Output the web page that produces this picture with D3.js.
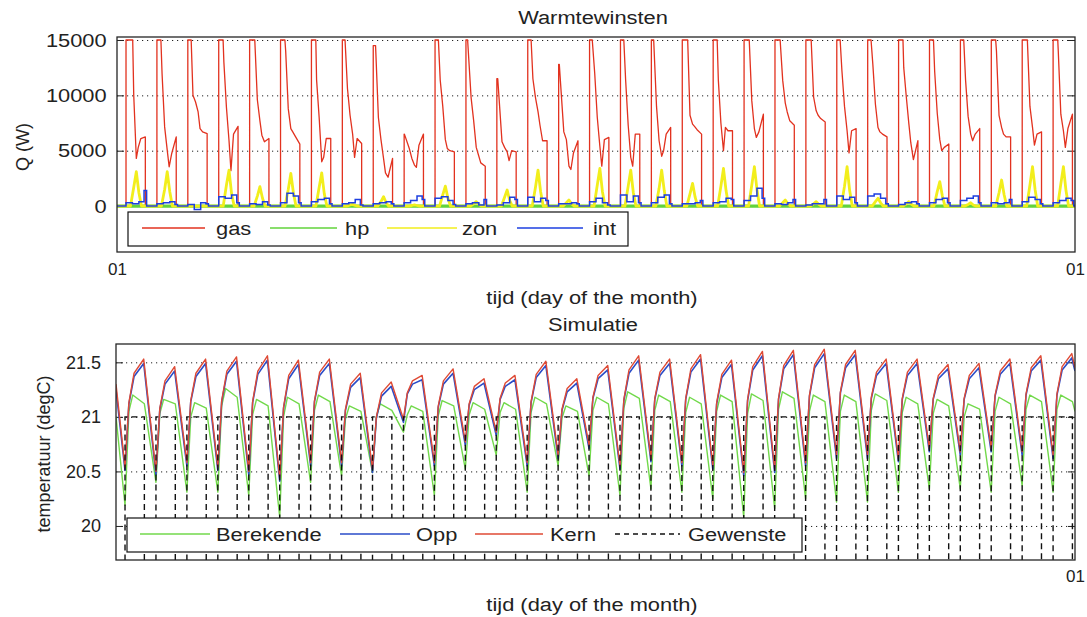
<!DOCTYPE html>
<html lang="nl">
<head>
<meta charset="utf-8">
<title>Warmtewinsten / Simulatie</title>
<script src="https://cdn.jsdelivr.net/npm/d3@7"></script>
<style>
  body { margin: 0; background: #fff; }
  text { font-family: "Liberation Sans", Arial, sans-serif; fill: #222; }
  .grid line { stroke: #222; stroke-dasharray: 1.2 3.8; }
  .grid path { display: none; }
  .ax path { display: none; }
  .ax line { stroke: #222; }
</style>
</head>
<body>
<svg id="fig" width="1087" height="617"></svg>
<script>
// ---------- data (one value per day of the month) ----------
const nDays = 31;

// gas (W): plateau end hour, peak, and values at 11, 13, 15, 16:30, 18:30, 22h
const gasPlatEnd = [12.2, 10.1, 9.6, 10.4, 10.9, 10.4, 10.4, 9.1, 8.8, 7.2, 9.6, 8.3, 7.7, 9.6, 7.5, 9.1, 9.6, 8.8, 11.2, 10.1, 11.0, 10.9, 11.1, 9.6, 9.6, 10.4, 10.1, 9.6, 10.4, 10.9, 10.6];
const gasPeak = [15000, 15000, 15000, 15000, 15000, 15000, 15000, 15000, 14500, 6500, 15000, 15000, 11500, 15000, 12800, 15000, 15000, 15000, 15000, 15000, 15000, 15000, 15000, 15000, 15000, 15000, 15000, 15000, 15000, 15000, 15000];
const gas11 = [15000, 11950, 10000, 13000, 15000, 14000, 11400, 10600, 8000, 5200, 11400, 9800, 5800, 11500, 6700, 12000, 11400, 9000, 15000, 11400, 15000, 15000, 15000, 12200, 12800, 12500, 12200, 11400, 14000, 15000, 14000];
const gas13 = [10000, 7150, 9400, 8900, 9600, 8800, 8000, 8200, 6000, 4300, 9000, 7700, 5300, 9800, 6000, 8000, 7300, 5900, 8200, 7500, 9500, 11350, 9850, 9000, 9200, 9850, 8400, 8100, 8200, 9000, 8300];
const gas15 = [4300, 5050, 8500, 5900, 7700, 7000, 4000, 6500, 4300, 3700, 6000, 5300, 4900, 8500, 3600, 5400, 4400, 4500, 7400, 5000, 7000, 9300, 8600, 6800, 7100, 7400, 6000, 6500, 7100, 7100, 6800];
const gas165 = [5300, 3550, 7000, 3200, 6400, 6700, 4400, 4400, 3000, 3500, 5200, 4700, 4100, 7300, 3300, 3600, 3600, 5000, 7200, 7100, 6200, 8500, 8200, 4800, 6700, 5700, 5000, 5900, 6500, 5500, 5300];
const gas185 = [6100, 4750, 6700, 6500, 5800, 6300, 6100, 6100, 2600, 5500, 5000, 3900, 5000, 5900, 4800, 6000, 6500, 6500, 6900, 6800, 6700, 7700, 7900, 6800, 6500, 4200, 5300, 6500, 6250, 6500, 7000];
const gas22 = [6250, 6250, 6550, 7200, 6100, 5600, 6100, 5650, 4300, 6500, 4900, 3600, 4900, 5900, 5900, 6200, 6500, 7100, 6500, 6800, 8300, 7300, 7600, 7000, 6250, 5900, 5600, 7000, 6250, 6700, 8300];

// heat pump (W)
const hpDay = [0, 0, 0, 0, 0, 0, 0, 0, 0, 0, 0, 0, 0, 0, 0, 0, 0, 0, 0, 0, 0, 0, 0, 0, 0, 0, 0, 0, 0, 0, 0];

// solar gains (W): values at 13h, 15h (peak) and 17h
const zon13 = [1700, 1500, 0, 1900, 900, 1500, 1700, 100, 400, 50, 1000, 200, 800, 1700, 300, 1900, 1800, 1600, 1100, 1800, 1900, 300, 200, 1800, 400, 200, 1300, 150, 1200, 1900, 2000];
const zonPeak = [3100, 3100, 0, 3250, 1750, 2950, 3000, 150, 850, 100, 1800, 400, 1450, 3250, 550, 3400, 3250, 3250, 2050, 3400, 3550, 550, 400, 3550, 700, 400, 2200, 300, 2350, 3550, 3550];
const zon17 = [1200, 1300, 0, 1100, 700, 1200, 1100, 50, 300, 50, 700, 150, 500, 1300, 200, 1300, 1200, 1400, 800, 1400, 1500, 200, 150, 1400, 300, 150, 900, 100, 1000, 1500, 1400];

// internal gains (W): blocks starting 07h, 12h, 17h, 21h
const int07 = [300, 200, 150, 850, 200, 300, 400, 200, 200, 300, 700, 200, 100, 800, 200, 400, 1000, 300, 200, 300, 500, 200, 100, 900, 900, 150, 300, 500, 300, 400, 300];
const int12 = [200, 300, -300, 700, 150, 1150, 600, 300, 300, 500, 850, 300, 300, 400, 200, 700, 400, 800, 200, 400, 900, 150, 200, 600, 1100, 300, 600, 700, 200, 800, 500];
const int17 = [400, 400, 300, 1000, 400, 900, 700, 600, 400, 900, 500, 100, 800, 700, 300, 300, 900, 1000, 300, 700, 1600, 300, 200, 800, 700, 400, 700, 900, 300, 600, 700];
const int21 = [1400, 150, 200, 300, 100, 300, 200, 100, 200, 600, 150, 600, 600, 500, 200, 100, 300, 200, 500, 600, 700, 600, 600, 300, 200, 200, 300, 300, 600, 200, 500];

// temperatures (degC): 07h minimum, 10h, 14h, evening peak
const kernMin = [20.54, 20.50, 20.58, 20.54, 20.50, 20.44, 20.58, 20.58, 20.52, 20.98, 20.58, 20.77, 20.86, 20.58, 20.65, 20.74, 20.55, 20.62, 20.58, 20.55, 20.49, 20.52, 20.58, 20.65, 20.65, 20.62, 20.71, 20.68, 20.71, 20.68, 20.65];
const kern10 = [21.13, 21.08, 21.15, 21.15, 21.14, 21.09, 21.15, 21.07, 21.00, 21.22, 21.10, 21.12, 21.17, 21.14, 21.07, 21.18, 21.16, 21.17, 21.17, 21.13, 21.16, 21.17, 21.20, 21.23, 21.18, 21.17, 21.17, 21.17, 21.20, 21.21, 21.21];
const kern14 = [21.40, 21.33, 21.40, 21.42, 21.42, 21.38, 21.41, 21.30, 21.22, 21.33, 21.33, 21.28, 21.31, 21.39, 21.26, 21.38, 21.43, 21.41, 21.44, 21.39, 21.46, 21.47, 21.48, 21.48, 21.41, 21.41, 21.38, 21.38, 21.42, 21.45, 21.46];
const kernPeak = [21.53, 21.46, 21.53, 21.55, 21.56, 21.52, 21.53, 21.40, 21.32, 21.38, 21.44, 21.35, 21.38, 21.51, 21.35, 21.47, 21.56, 21.53, 21.57, 21.52, 21.60, 21.61, 21.62, 21.61, 21.53, 21.53, 21.48, 21.49, 21.53, 21.56, 21.58];

const oppMin = [20.51, 20.47, 20.55, 20.51, 20.47, 20.41, 20.55, 20.55, 20.49, 20.95, 20.55, 20.74, 20.83, 20.55, 20.62, 20.71, 20.52, 20.59, 20.55, 20.52, 20.46, 20.49, 20.55, 20.62, 20.62, 20.59, 20.68, 20.65, 20.68, 20.65, 20.62];
const opp10 = [21.12, 21.07, 21.14, 21.14, 21.13, 21.08, 21.14, 21.06, 20.99, 21.21, 21.09, 21.11, 21.16, 21.13, 21.06, 21.17, 21.15, 21.16, 21.16, 21.12, 21.15, 21.16, 21.19, 21.22, 21.17, 21.16, 21.16, 21.16, 21.19, 21.20, 21.20];
const opp14 = [21.37, 21.30, 21.37, 21.39, 21.39, 21.35, 21.38, 21.27, 21.19, 21.30, 21.30, 21.25, 21.28, 21.36, 21.23, 21.35, 21.40, 21.38, 21.41, 21.36, 21.43, 21.44, 21.45, 21.45, 21.38, 21.38, 21.35, 21.35, 21.39, 21.42, 21.43];
const oppPeak = [21.49, 21.42, 21.49, 21.51, 21.52, 21.48, 21.49, 21.36, 21.28, 21.34, 21.40, 21.31, 21.34, 21.47, 21.31, 21.43, 21.52, 21.49, 21.53, 21.48, 21.56, 21.57, 21.58, 21.57, 21.49, 21.49, 21.44, 21.45, 21.49, 21.52, 21.54];

// berekende: 07h minimum, 10h, 13h plateau, 22h
const berMin = [20.19, 20.40, 20.31, 20.31, 20.28, 20.08, 20.40, 20.46, 20.49, 20.86, 20.28, 20.52, 20.65, 20.31, 20.55, 20.46, 20.28, 20.34, 20.31, 20.25, 20.08, 20.16, 20.25, 20.22, 20.22, 20.31, 20.34, 20.34, 20.31, 20.37, 20.31];
const ber10 = [21.05, 21.03, 21.00, 21.10, 21.02, 21.00, 21.06, 20.98, 21.00, 21.02, 21.01, 21.02, 21.04, 21.04, 20.99, 21.06, 21.08, 21.06, 21.04, 21.05, 21.03, 21.07, 21.05, 21.05, 21.06, 21.04, 21.03, 21.00, 21.05, 21.07, 21.07];
const berTop = [21.20, 21.16, 21.13, 21.26, 21.16, 21.18, 21.20, 21.10, 21.12, 21.10, 21.15, 21.13, 21.13, 21.18, 21.10, 21.18, 21.23, 21.20, 21.18, 21.20, 21.21, 21.23, 21.20, 21.20, 21.21, 21.18, 21.16, 21.12, 21.18, 21.20, 21.20];
const berEve = [21.12, 21.12, 21.08, 21.18, 21.10, 21.12, 21.14, 21.05, 21.06, 21.05, 21.10, 21.07, 21.07, 21.12, 21.05, 21.12, 21.17, 21.14, 21.12, 21.14, 21.15, 21.17, 21.14, 21.14, 21.15, 21.12, 21.10, 21.07, 21.12, 21.14, 21.14];

// values at the start (00h day 1) and end (24h day 31) of the month
const tempStart = { kern: 21.3, opp: 21.25, ber: 21.0 };
const tempEnd = { kern: 21.45, opp: 21.42, ber: 21.05 };

// setpoint (Gewenste): day value from 07h to 22h, night value
const setHours = [7, 22];
const setValues = [21, 15];

const qTicks = [0, 5000, 10000, 15000];
const tTicks = [20, 20.5, 21, 21.5];

// ---------- build series ----------
const tEnd = nDays * 24;

var gasPts = [[0, 0]];
var zonPts = [[0, 0]];
var intPts = [[0, 0]];
var hpPts = [];
var kernPts = [[0, tempStart.kern]];
var oppPts = [[0, tempStart.opp]];
var berPts = [[0, tempStart.ber]];
var setPts = [[0, setValues[1]]];

for (var d = 0; d < nDays; d++) {
  var t = d * 24;
  var g = [[7, 0], [7, gasPeak[d]], [gasPlatEnd[d], gasPeak[d]]];
  if (gasPlatEnd[d] < 11) g.push([11, gas11[d]]);
  g.push([13, gas13[d]], [15, gas15[d]], [16.5, gas165[d]], [18.5, gas185[d]], [22, gas22[d]], [22, 0]);
  g.forEach(function(p){ gasPts.push([t + p[0], p[1]]) });

  zonPts.push([t + 10.5, 0], [t + 13, zon13[d]], [t + 15, zonPeak[d]], [t + 17, zon17[d]], [t + 19, 0]);
  intPts.push([t + 7, int07[d]], [t + 12, int12[d]], [t + 17, int17[d]], [t + 21, int21[d]], [t + 23, 0]);
  hpPts.push([t, hpDay[d]]);

  kernPts.push([t + 7, kernMin[d]], [t + 10, kern10[d]], [t + 14, kern14[d]], [t + 21.5, kernPeak[d]]);
  oppPts.push([t + 7, oppMin[d]], [t + 10, opp10[d]], [t + 14, opp14[d]], [t + 21.5, oppPeak[d]]);
  berPts.push([t + 7, berMin[d]], [t + 10, ber10[d]], [t + 13, berTop[d]], [t + 22, berEve[d]]);
  setPts.push([t + setHours[0], setValues[1]], [t + setHours[0], setValues[0]], [t + setHours[1], setValues[0]], [t + setHours[1], setValues[1]]);
}
gasPts.push([tEnd, 0]);
zonPts.push([tEnd, 0]);
intPts.push([tEnd, 0]);
hpPts.push([tEnd, hpDay[nDays - 1]]);
kernPts.push([tEnd, tempEnd.kern]);
oppPts.push([tEnd, tempEnd.opp]);
berPts.push([tEnd, tempEnd.ber]);
setPts.push([tEnd, setValues[1]]);

// ---------- drawing ----------
var svg = d3.select("#fig");
svg.append("rect").attr("width", 1087).attr("height", 617).attr("fill", "#fff");

var colors = {
  gas: "#e2321f", hp: "#62d33b", zon: "#f2ee1c", int: "#1d3fe0",
  ber: "#72d94b", opp: "#2a4cc8", kern: "#df4a35", set: "#111"
};

function wideText(sel, x, y, str, anchor, size) {
  return sel.append("text")
    .attr("transform", "translate(" + x + "," + y + ") scale(1.15,1)")
    .attr("text-anchor", anchor || "middle")
    .style("font-size", (size || 19) + "px")
    .text(str);
}

function panel(box, yScale, ticks, id) {
  var g = svg.append("g");
  var w = box.right - box.left;
  // dotted grid
  g.append("g").attr("class", "grid")
    .attr("transform", "translate(" + box.left + ",0)")
    .call(d3.axisRight(yScale).tickValues(ticks).tickSize(w).tickFormat(""));
  // inward ticks, both sides
  g.append("g").attr("class", "ax")
    .attr("transform", "translate(" + box.left + ",0)")
    .call(d3.axisRight(yScale).tickValues(ticks).tickSize(7).tickFormat(""));
  g.append("g").attr("class", "ax")
    .attr("transform", "translate(" + box.right + ",0)")
    .call(d3.axisLeft(yScale).tickValues(ticks).tickSize(7).tickFormat(""));
  svg.append("clipPath").attr("id", id)
    .append("rect").attr("x", box.left).attr("y", box.top)
    .attr("width", w).attr("height", box.bottom - box.top);
  var plot = svg.append("g").attr("clip-path", "url(#" + id + ")");
  return plot;
}

function frame(box) {
  svg.append("rect")
    .attr("x", box.left).attr("y", box.top)
    .attr("width", box.right - box.left).attr("height", box.bottom - box.top)
    .attr("fill", "none").attr("stroke", "#262626").attr("stroke-width", 1.3);
}

// ===== top panel: Warmtewinsten =====
var boxT = { left: 117, right: 1075, top: 37, bottom: 252 };
var xT = d3.scaleLinear().domain([0, tEnd]).range([boxT.left, boxT.right]);
var yT = d3.scaleLinear().domain([-4150, 15270]).range([boxT.bottom, boxT.top]);

var plotT = panel(boxT, yT, qTicks, "clipTop");
var lineT = d3.line().x(function(p){ return xT(p[0]) }).y(function(p){ return yT(p[1]) });
var stepT = d3.line().curve(d3.curveStepAfter).x(function(p){ return xT(p[0]) }).y(function(p){ return yT(p[1]) });

plotT.append("path").datum(gasPts).attr("d", lineT).attr("fill", "none")
  .attr("stroke", colors.gas).attr("stroke-width", 1.3).attr("stroke-linejoin", "round");
plotT.append("path").datum(hpPts).attr("d", stepT).attr("fill", "none")
  .attr("stroke", colors.hp).attr("stroke-width", 3.2);
plotT.append("path").datum(zonPts).attr("d", lineT).attr("fill", "none")
  .attr("stroke", colors.zon).attr("stroke-width", 2.8).attr("stroke-linejoin", "round");
plotT.append("path").datum(intPts).attr("d", stepT).attr("fill", "none")
  .attr("stroke", colors.int).attr("stroke-width", 1.5);

frame(boxT);

// y tick labels
var yAxT = svg.append("g").attr("class", "ax").attr("transform", "translate(" + boxT.left + ",0)")
  .call(d3.axisLeft(yT).tickValues(qTicks).tickSize(0).tickPadding(9).tickFormat(d3.format("d")));
yAxT.selectAll("text").style("font-size", "19px").attr("transform", "scale(1.15,1)");

// x tick labels
var xAxT = svg.append("g").attr("class", "ax").attr("transform", "translate(0," + boxT.bottom + ")")
  .call(d3.axisBottom(xT).tickValues([0, tEnd]).tickSize(0).tickPadding(11).tickFormat(function(){ return "01" }));
xAxT.selectAll("text").style("font-size", "17px");

wideText(svg, 593, 24, "Warmtewinsten");
wideText(svg, 592, 304, "tijd (day of the month)");
svg.append("text").attr("transform", "translate(29,147) rotate(-90)")
  .attr("text-anchor", "middle").style("font-size", "18px").text("Q (W)");

// legend
var legT = svg.append("g");
legT.append("rect").attr("x", 128).attr("y", 212).attr("width", 500).attr("height", 34)
  .attr("fill", "#fff").attr("stroke", "#111").attr("stroke-width", 1.2);
var legTItems = [
  { name: "gas", c: colors.gas, x1: 142, x2: 205, tx: 216 },
  { name: "hp", c: colors.hp, x1: 270, x2: 337, tx: 345 },
  { name: "zon", c: colors.zon, x1: 387, x2: 457, tx: 462 },
  { name: "int", c: colors.int, x1: 517, x2: 583, tx: 593 }
];
legTItems.forEach(function(it){
  legT.append("line").attr("x1", it.x1).attr("x2", it.x2).attr("y1", 228).attr("y2", 228)
    .attr("stroke", it.c).attr("stroke-width", 1.6);
  wideText(legT, it.tx, 235, it.name, "start");
});

// ===== bottom panel: Simulatie =====
var boxB = { left: 116, right: 1075, top: 344, bottom: 560 };
var xB = d3.scaleLinear().domain([0, tEnd]).range([boxB.left, boxB.right]);
var yB = d3.scaleLinear().domain([19.688, 21.668]).range([boxB.bottom, boxB.top]);

var plotB = panel(boxB, yB, tTicks, "clipBot");
var lineB = d3.line().x(function(p){ return xB(p[0]) }).y(function(p){ return yB(p[1]) });

plotB.append("path").datum(berPts).attr("d", lineB).attr("fill", "none")
  .attr("stroke", colors.ber).attr("stroke-width", 1.4).attr("stroke-linejoin", "round");
plotB.append("path").datum(oppPts).attr("d", lineB).attr("fill", "none")
  .attr("stroke", colors.opp).attr("stroke-width", 1.6).attr("stroke-linejoin", "round");
plotB.append("path").datum(kernPts).attr("d", lineB).attr("fill", "none")
  .attr("stroke", colors.kern).attr("stroke-width", 1.4).attr("stroke-linejoin", "round");
plotB.append("path").datum(setPts).attr("d", lineB).attr("fill", "none")
  .attr("stroke", colors.set).attr("stroke-width", 1.4).attr("stroke-dasharray", "6 4");

// legend (opaque, over the lines)
var legB = svg.append("g");
legB.append("rect").attr("x", 127).attr("y", 518).attr("width", 675).attr("height", 34)
  .attr("fill", "#fff").attr("stroke", "#111").attr("stroke-width", 1.2);
var legBItems = [
  { name: "Berekende", c: colors.ber, x1: 140, x2: 210, tx: 216, dash: null },
  { name: "Opp", c: colors.opp, x1: 340, x2: 410, tx: 416, dash: null },
  { name: "Kern", c: colors.kern, x1: 475, x2: 543, tx: 550, dash: null },
  { name: "Gewenste", c: colors.set, x1: 615, x2: 680, tx: 688, dash: "5 4" }
];
legBItems.forEach(function(it){
  legB.append("line").attr("x1", it.x1).attr("x2", it.x2).attr("y1", 534).attr("y2", 534)
    .attr("stroke", it.c).attr("stroke-width", 1.4).attr("stroke-dasharray", it.dash);
  wideText(legB, it.tx, 541, it.name, "start");
});

frame(boxB);

var yAxB = svg.append("g").attr("class", "ax").attr("transform", "translate(" + boxB.left + ",0)")
  .call(d3.axisLeft(yB).tickValues(tTicks).tickSize(0).tickPadding(15).tickFormat(d3.format("~g")));
yAxB.selectAll("text").style("font-size", "18px");

var xAxB = svg.append("g").attr("class", "ax").attr("transform", "translate(0," + boxB.bottom + ")")
  .call(d3.axisBottom(xB).tickValues([tEnd]).tickSize(0).tickPadding(10).tickFormat(function(){ return "01" }));
xAxB.selectAll("text").style("font-size", "17px");

wideText(svg, 593, 331, "Simulatie");
wideText(svg, 592, 611, "tijd (day of the month)");
svg.append("text").attr("transform", "translate(50,454) rotate(-90)")
  .attr("text-anchor", "middle").style("font-size", "18px").text("temperatuur (degC)");
</script>
</body>
</html>
